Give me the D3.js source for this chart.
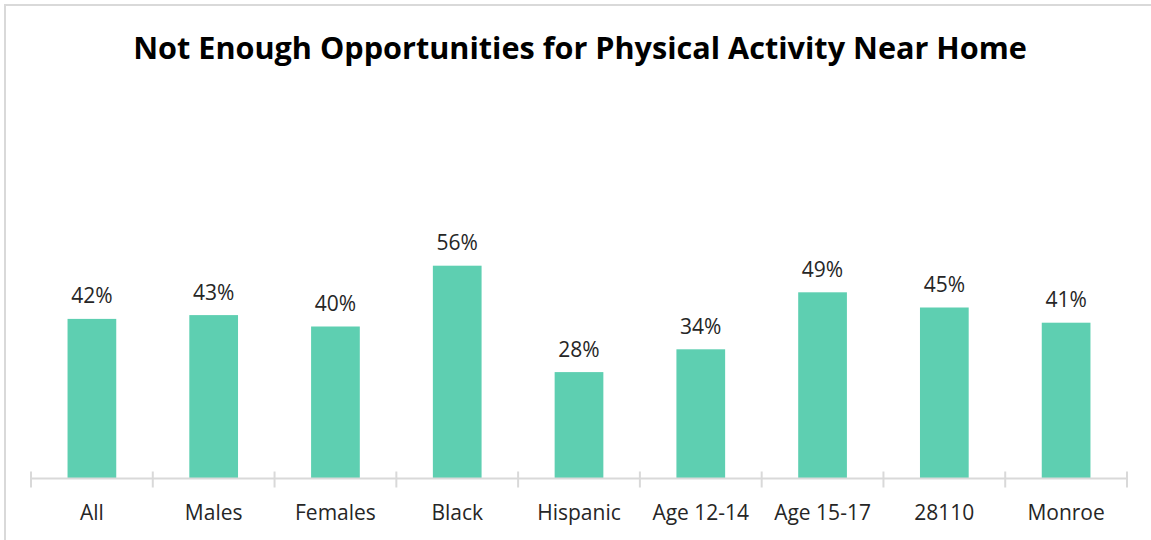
<!DOCTYPE html>
<html>
<head>
<meta charset="utf-8">
<script src="https://cdn.jsdelivr.net/npm/d3@7"></script>
<style>
  html, body { margin: 0; padding: 0; background: #fff; }
  svg { display: block; }
</style>
</head>
<body>
<svg id="chart" width="1151" height="540"></svg>
<script>
// Survey responses: share reporting not enough opportunities for physical activity near home
const categories = ["All", "Males", "Females", "Black", "Hispanic", "Age 12-14", "Age 15-17", "28110", "Monroe"];
const values = [0.42, 0.43, 0.40, 0.56, 0.28, 0.34, 0.49, 0.45, 0.41];
const titleText = "Not Enough Opportunities for Physical Activity Near Home";

const svg = d3.select("#chart");
const W = 1151, H = 540;
const font = "'Open Sans', 'Noto Sans', sans-serif";
const labelSize = 21;

// Outer chart frame (runs off the right and bottom edges)
svg.append("rect")
  .attr("x", 5).attr("y", 5)
  .attr("width", W + 20).attr("height", H + 20)
  .attr("fill", "#fff")
  .attr("stroke", "#d9d9d9").attr("stroke-width", 2);

const plot = { left: 31, right: 1127, bottom: 478.5, top: 98.5 };

const x = d3.scaleBand()
  .domain(categories)
  .range([plot.left, plot.right])
  .paddingInner(0.6)
  .paddingOuter(0.3);

const y = d3.scaleLinear()
  .domain([0, 1])
  .range([plot.bottom, plot.top]);

// Bars
svg.append("g")
  .selectAll("rect")
  .data(values)
  .join("rect")
  .attr("x", (d, i) => x(categories[i]))
  .attr("y", d => y(d))
  .attr("width", x.bandwidth())
  .attr("height", d => y(0) - y(d))
  .attr("fill", "#5ecfb1");

// Value labels
svg.append("g")
  .selectAll("text")
  .data(values)
  .join("text")
  .attr("x", (d, i) => x(categories[i]) + x.bandwidth() / 2)
  .attr("y", d => y(d) - 15.5)
  .attr("text-anchor", "middle")
  .attr("font-family", font)
  .attr("font-size", labelSize)
  .attr("fill", "#262626")
  .text(d => d3.format(".0%")(d));

// Category axis: baseline with tick marks at band boundaries
const axisG = svg.append("g");
axisG.append("line")
  .attr("x1", plot.left).attr("x2", plot.right)
  .attr("y1", plot.bottom).attr("y2", plot.bottom)
  .attr("stroke", "#d9d9d9").attr("stroke-width", 2);

const step = x.step();
const boundaries = d3.range(categories.length + 1).map(i => plot.left + i * step);
axisG.selectAll("line.tick")
  .data(boundaries)
  .join("line")
  .attr("class", "tick")
  .attr("x1", d => d).attr("x2", d => d)
  .attr("y1", plot.bottom - 7).attr("y2", plot.bottom + 9)
  .attr("stroke", "#d9d9d9").attr("stroke-width", 2);

axisG.selectAll("text")
  .data(categories)
  .join("text")
  .attr("x", d => x(d) + x.bandwidth() / 2)
  .attr("y", 520)
  .attr("text-anchor", "middle")
  .attr("font-family", font)
  .attr("font-size", labelSize)
  .attr("fill", "#262626")
  .text(d => d);

// Title, sized to span its measured width
const title = svg.append("text")
  .attr("x", (plot.left + plot.right) / 2 + 1)
  .attr("y", 59)
  .attr("text-anchor", "middle")
  .attr("font-family", font)
  .attr("font-weight", "bold")
  .attr("font-size", 28)
  .attr("fill", "#000")
  .text(titleText);
const tw = title.node().getComputedTextLength();
title.attr("font-size", 28 * 894 / tw);
</script>
</body>
</html>
